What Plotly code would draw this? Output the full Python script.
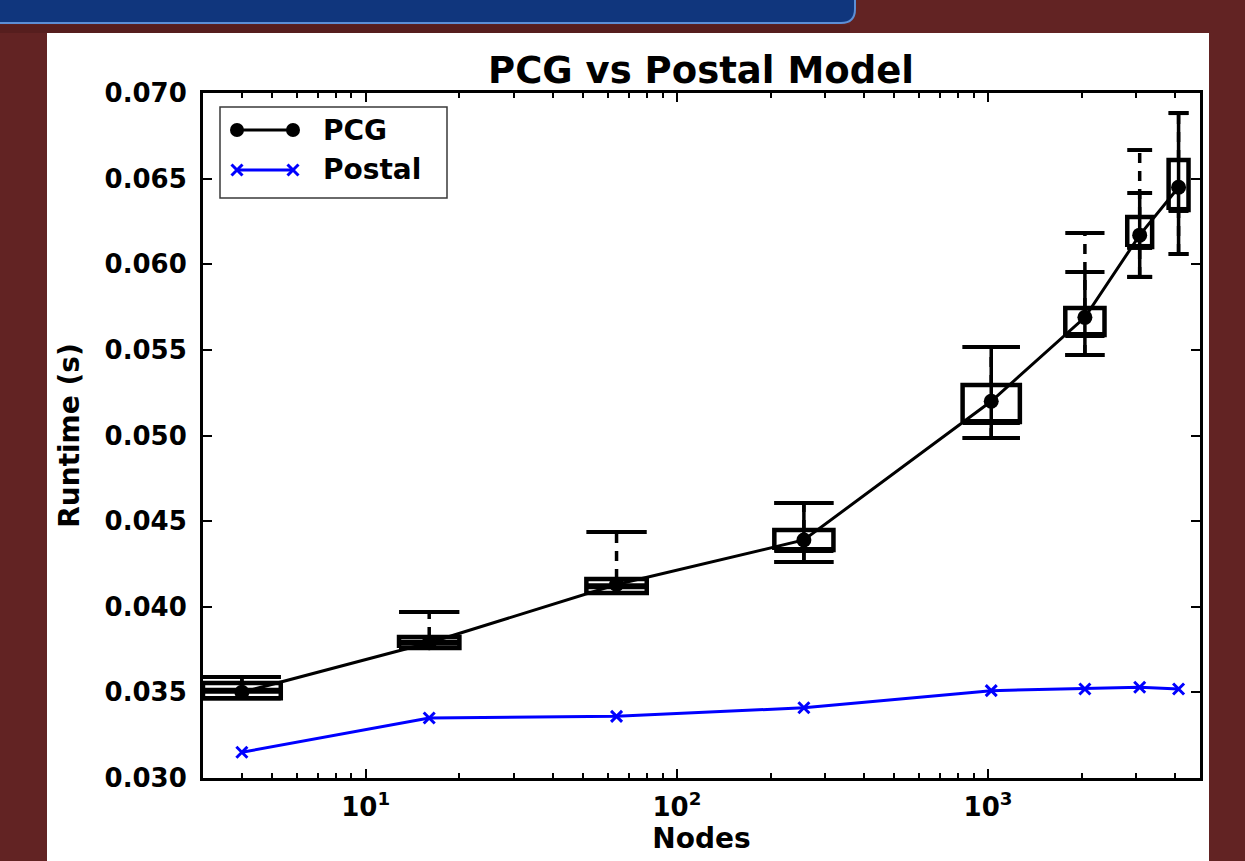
import math
import plotly.graph_objects as go

# ---------------------------------------------------------------- data
NODES = [4, 16, 64, 256, 1024, 2048, 3072, 4096]

# PCG runtime distribution per node count (seconds)
PCG_MEAN = [0.0350, 0.0379, 0.0413, 0.0439, 0.0520, 0.0569, 0.0617, 0.0645]
PCG_MEDIAN = [0.0351, 0.0379, 0.0412, 0.04331, 0.05079, 0.05587, 0.06101, 0.06317]
PCG_Q1 = [0.03465, 0.03759, 0.04080, 0.04331, 0.05079, 0.05587, 0.06101, 0.06317]
PCG_Q3 = [0.03555, 0.03823, 0.04162, 0.04448, 0.05295, 0.05745, 0.06276, 0.06609]
PCG_WHISKER_LO = [0.03465, 0.03759, 0.04080, 0.04261, 0.04985, 0.05470, 0.05926, 0.06060]
PCG_WHISKER_HI = [0.03590, 0.03969, 0.04437, 0.04606, 0.05517, 0.06182, 0.06667, 0.06883]
PCG_ERR_LO = [0.03465, 0.03759, 0.04080, 0.04261, 0.04985, 0.05470, 0.05926, 0.06060]
PCG_ERR_HI = [0.03590, 0.03823, 0.04162, 0.04606, 0.05517, 0.05955, 0.06416, 0.06883]

# Postal model prediction (seconds)
POSTAL = [0.0315, 0.0335, 0.0336, 0.0341, 0.0351, 0.0352, 0.0353, 0.0352]

X_TICK_VALS = [10, 100, 1000]
X_TICK_TEXT = ["10<sup>1</sup>", "10<sup>2</sup>", "10<sup>3</sup>"]
Y_TICK_VALS = [0.030, 0.035, 0.040, 0.045, 0.050, 0.055, 0.060, 0.065, 0.070]

TITLE = "PCG vs Postal Model"
X_LABEL = "Nodes"
Y_LABEL = "Runtime (s)"

# ---------------------------------------------------------------- style
# half box width per position, in decades of the log axis
BOX_HALF_DEC = [0.125, 0.097, 0.097, 0.095, 0.092, 0.063, 0.040, 0.032]

FONT = "DejaVu Sans"
BLACK = "#000000"
BLUE = "#0000ff"
SLIDE_RED = "#622323"
HEADER_BLUE = "#10367d"
HEADER_EDGE = "#5c8fd6"

W, H = 1245, 861
M_L, M_R, M_T, M_B = 203, 45, 93, 83
PLOT_W = W - M_L - M_R
PLOT_H = H - M_T - M_B


def px(x):
    """page pixel column -> paper fraction"""
    return (x - M_L) / PLOT_W


def py(y):
    """page pixel row -> paper fraction"""
    return (H - M_B - y) / PLOT_H


# ---------------------------------------------------------------- geometry helpers
def span(i):
    f = 10 ** BOX_HALF_DEC[i]
    return NODES[i] / f, NODES[i] * f


def hsegments(values):
    xs, ys = [], []
    for i, v in enumerate(values):
        a, b = span(i)
        xs += [a, b, None]
        ys += [v, v, None]
    return xs, ys


def vsegments(lo, hi):
    xs, ys = [], []
    for i in range(len(NODES)):
        if hi[i] > lo[i]:
            xs += [NODES[i], NODES[i], None]
            ys += [lo[i], hi[i], None]
    return xs, ys


fig = go.Figure()

# dashed whiskers (box edge -> extreme)
wx1, wy1 = vsegments(PCG_Q3, PCG_WHISKER_HI)
wx2, wy2 = vsegments(PCG_WHISKER_LO, PCG_Q1)
fig.add_trace(go.Scatter(x=wx1 + wx2, y=wy1 + wy2, mode="lines",
                         line=dict(color=BLACK, width=3.5, dash="10px,8px"),
                         hoverinfo="skip", showlegend=False))

# whisker caps
cx1, cy1 = hsegments(PCG_WHISKER_HI)
cx2, cy2 = hsegments(PCG_WHISKER_LO)
fig.add_trace(go.Scatter(x=cx1 + cx2, y=cy1 + cy2, mode="lines",
                         line=dict(color=BLACK, width=4),
                         hoverinfo="skip", showlegend=False))

# solid error bars with caps
ex, ey = vsegments(PCG_ERR_LO, PCG_ERR_HI)
fig.add_trace(go.Scatter(x=ex, y=ey, mode="lines",
                         line=dict(color=BLACK, width=3.5),
                         hoverinfo="skip", showlegend=False))
ecx1, ecy1 = hsegments(PCG_ERR_HI)
ecx2, ecy2 = hsegments(PCG_ERR_LO)
fig.add_trace(go.Scatter(x=ecx1 + ecx2, y=ecy1 + ecy2, mode="lines",
                         line=dict(color=BLACK, width=4),
                         hoverinfo="skip", showlegend=False))

# boxes (interquartile range) and medians
bx, by = [], []
for i in range(len(NODES)):
    a, b = span(i)
    bx += [a, b, b, a, a, None]
    by += [PCG_Q1[i], PCG_Q1[i], PCG_Q3[i], PCG_Q3[i], PCG_Q1[i], None]
fig.add_trace(go.Scatter(x=bx, y=by, mode="lines",
                         line=dict(color=BLACK, width=4.5),
                         hoverinfo="skip", showlegend=False))
mx, my = hsegments(PCG_MEDIAN)
fig.add_trace(go.Scatter(x=mx, y=my, mode="lines",
                         line=dict(color=BLACK, width=6),
                         hoverinfo="skip", showlegend=False))

# mean runtime lines
fig.add_trace(go.Scatter(x=NODES, y=POSTAL, mode="lines+markers", name="Postal",
                         line=dict(color=BLUE, width=3),
                         marker=dict(symbol="x-thin", size=11,
                                     line=dict(color=BLUE, width=3)),
                         showlegend=False))
fig.add_trace(go.Scatter(x=NODES, y=PCG_MEAN, mode="lines+markers", name="PCG",
                         line=dict(color=BLACK, width=3),
                         marker=dict(symbol="circle", size=15, color=BLACK),
                         showlegend=False))

# ---------------------------------------------------------------- legend (matplotlib style)
LEG_X0, LEG_X1 = px(237), px(293)
LEG_ROWS = [("PCG", py(130)), ("Postal", py(170))]
fig.add_trace(go.Scatter(x=[LEG_X0, LEG_X1], y=[LEG_ROWS[0][1]] * 2, xaxis="x2", yaxis="y2",
                         mode="lines+markers", line=dict(color=BLACK, width=3),
                         marker=dict(symbol="circle", size=14, color=BLACK),
                         hoverinfo="skip", showlegend=False))
fig.add_trace(go.Scatter(x=[LEG_X0, LEG_X1], y=[LEG_ROWS[1][1]] * 2, xaxis="x2", yaxis="y2",
                         mode="lines+markers", line=dict(color=BLUE, width=3),
                         marker=dict(symbol="x-thin", size=11, line=dict(color=BLUE, width=3)),
                         hoverinfo="skip", showlegend=False))

annotations = []
for label, yy in LEG_ROWS:
    annotations.append(dict(x=px(321), y=yy, xref="paper", yref="paper", text=label,
                            showarrow=False, xanchor="left", yanchor="middle",
                            font=dict(family=FONT, size=28, color=BLACK, weight="bold")))

shapes = [
    # slide header bar
    dict(type="path", xref="paper", yref="paper", layer="below",
         path=(f"M {px(-5)},{py(-5)} L {px(855)},{py(-5)} L {px(855)},{py(9)} "
               f"Q {px(855)},{py(23)} {px(841)},{py(23)} L {px(-5)},{py(23)} Z"),
         fillcolor=HEADER_BLUE, line=dict(color=HEADER_EDGE, width=2)),
    # shadow under the header
    dict(type="rect", xref="paper", yref="paper", layer="below",
         x0=px(0), x1=px(850), y0=py(33), y1=py(24.5),
         fillcolor="#561e1e", line=dict(width=0)),
    # white figure panel
    dict(type="rect", xref="paper", yref="paper", layer="below",
         x0=px(47), x1=px(1209), y0=py(870), y1=py(33),
         fillcolor="#ffffff", line=dict(width=0)),
    # legend frame
    dict(type="rect", xref="paper", yref="paper", layer="above",
         x0=px(220), x1=px(447), y0=py(198), y1=py(107),
         fillcolor="rgba(0,0,0,0)", line=dict(color="#3a3a3a", width=1.5)),
]

minor_vals = [m * 10 ** e for e in range(0, 4) for m in range(2, 10)
              if 3 <= m * 10 ** e <= 4800 and m * 10 ** e not in X_TICK_VALS]

tick_font = dict(family=FONT, size=26, color=BLACK, weight="bold")
axis_common = dict(showgrid=False, zeroline=False, showline=True, linecolor=BLACK,
                   linewidth=3, ticks="inside", tickcolor=BLACK, tickwidth=2,
                   ticklen=9, mirror="allticks", tickfont=tick_font)

fig.update_layout(
    width=W, height=H, autosize=False,
    margin=dict(l=M_L, r=M_R, t=M_T, b=M_B, autoexpand=False),
    paper_bgcolor=SLIDE_RED, plot_bgcolor="#ffffff",
    title=dict(text=TITLE, x=px(701), xref="paper", xanchor="center",
               y=1 - 70 / H, yanchor="middle",
               font=dict(family=FONT, size=37, color=BLACK, weight="bold")),
    xaxis=dict(type="log", range=[math.log10(3), math.log10(4800)],
               tickmode="array", tickvals=X_TICK_VALS, ticktext=X_TICK_TEXT,
               ticklabelstandoff=4,
               minor=dict(tickmode="array", tickvals=minor_vals, ticks="inside",
                          ticklen=5, tickwidth=1.5, tickcolor=BLACK, showgrid=False),
               title=dict(text=X_LABEL, standoff=8,
                          font=dict(family=FONT, size=28, color=BLACK, weight="bold")),
               **axis_common),
    yaxis=dict(range=[0.030, 0.070], tickmode="array", tickvals=Y_TICK_VALS,
               tickformat=".3f", ticklabelstandoff=8,
               title=dict(text=Y_LABEL, standoff=17,
                          font=dict(family=FONT, size=28, color=BLACK, weight="bold")),
               **axis_common),
    xaxis2=dict(overlaying="x", range=[0, 1], visible=False, anchor="y2"),
    yaxis2=dict(overlaying="y", range=[0, 1], visible=False, anchor="x2"),
    shapes=shapes,
    annotations=annotations,
)

fig.write_html("out.html")
